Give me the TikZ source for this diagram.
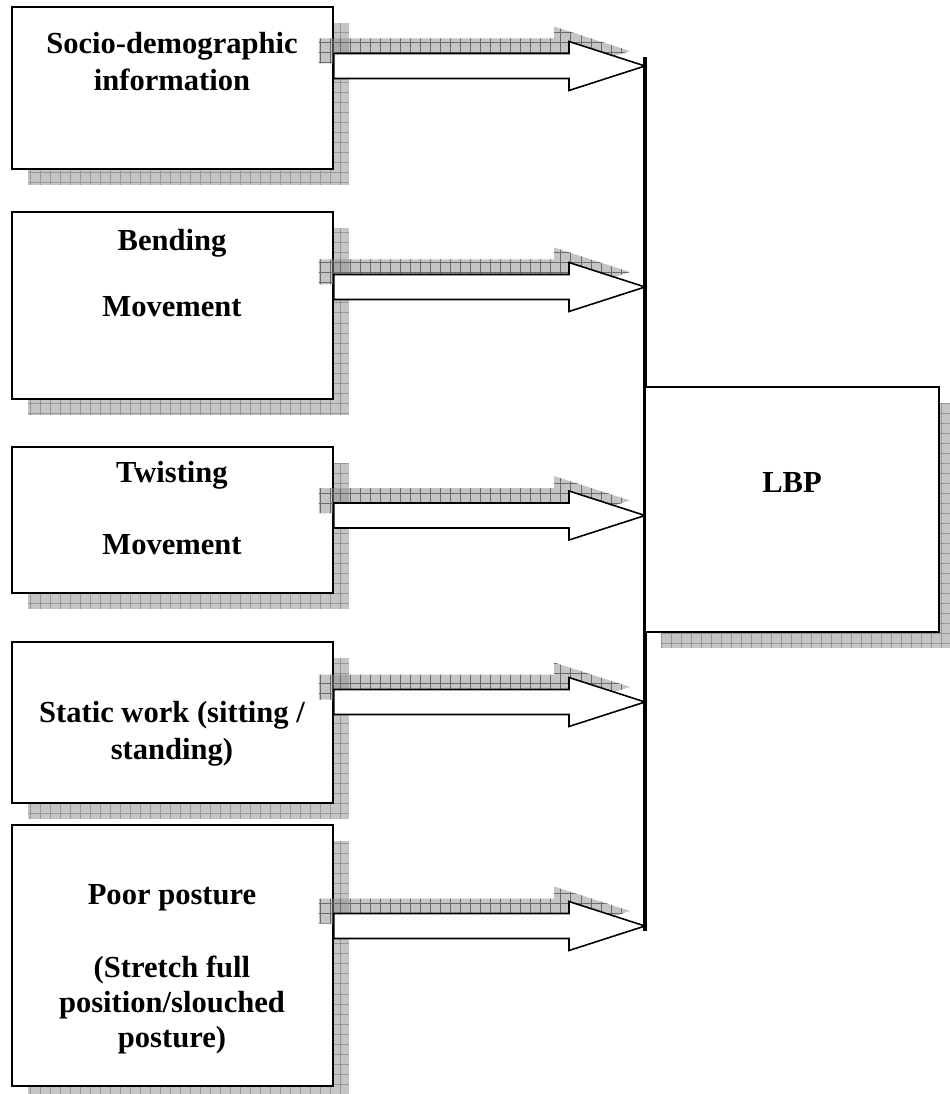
\documentclass[tikz,border=0pt]{standalone}
\usepackage{fontspec}
\setmainfont{Liberation Serif}
\usetikzlibrary{%
  calc,%
  shadows,% drop shadow
  patterns,%
  positioning%
}

% grid texture of the shadows
\pgfdeclarepatternformonly{shadowgrid}{\pgfqpoint{-1pt}{-1pt}}{\pgfqpoint{6.7pt}{6.7pt}}{\pgfqpoint{5.7pt}{5.7pt}}{%
  \pgfsetlinewidth{0.4pt}%
  \pgfpathmoveto{\pgfqpoint{0pt}{0pt}}\pgfpathlineto{\pgfqpoint{5.7pt}{0pt}}%
  \pgfpathmoveto{\pgfqpoint{0pt}{0pt}}\pgfpathlineto{\pgfqpoint{0pt}{5.7pt}}%
  \pgfusepath{stroke}}

\begin{document}
\begin{tikzpicture}[
  x=0.02cm, y=-0.02cm,
  font=\fontsize{17.4}{21}\selectfont\bfseries,
  factor/.style={rectangle, draw=black, fill=white, line width=1.1pt, inner sep=0pt, minimum width=6.42cm,
    drop shadow={shadow xshift=0.32cm, shadow yshift=-0.32cm, fill=black!45, opacity=0.5,
      postaction={pattern=shadowgrid, pattern color=black!58}}},
  txt/.style={align=center, inner sep=0pt},
  barrow/.style={to path={($(\tikztostart)+(0,-12.5)$) -- ($(\tikztotarget)+(-76,-12.5)$)
    -- ($(\tikztotarget)+(-76,-24.5)$) -- (\tikztotarget) -- ($(\tikztotarget)+(-76,24.5)$)
    -- ($(\tikztotarget)+(-76,12.5)$) -- ($(\tikztostart)+(0,12.5)$) -- cycle}},
  arrowshadow/.style={fill=black!45, fill opacity=0.5, draw=none,
    postaction={pattern=shadowgrid, pattern color=black!58}},
  blockarrow/.style={draw=black, fill=white, line width=0.9pt, line join=miter},
  bar/.style={line width=1.8pt}
]
\useasboundingbox (0,0) rectangle (949,1094);

% factors
\node[factor, minimum height=3.24cm] (b1) at (172.5,88) {};
\node[factor, minimum height=3.74cm] (b2) at (172.5,305.5) {};
\node[factor, minimum height=2.92cm] (b3) at (172.5,520) {};
\node[factor, minimum height=3.22cm] (b4) at (172.5,722.5) {};
\node[factor, minimum height=5.22cm] (b5) at (172.5,955.5) {};

\node[txt] (t1) at (172,61.5) {Socio-demographic\\information};
\node[txt] (t2a) at (172,243) {Bending};
\node[txt] (t2b) at (172,307) {Movement};
\node[txt] (t3a) at (172,475) {Twisting};
\node[txt] (t3b) at (172,545) {Movement};
\node[txt] (t4) at (172,734) {Static work (sitting /\\standing)};
\node[txt] (t5a) at (172,898) {Poor posture};
\node[txt, font=\fontsize{17.4}{20}\selectfont\bfseries] (t5b) at (172,1005) {(Stretch full\\position/slouched\\posture)};

% collecting bar
\coordinate (bartop) at (645,57);
\coordinate (barbot) at (645,931);

\foreach \i/\y in {1/66,2/287,3/515.5,4/702,5/926} {
  \coordinate (a\i) at (b\i.east |- 0,\y);
  \coordinate (e\i) at (bartop |- 0,\y);
}
\foreach \i in {1,...,5}
  \path[arrowshadow] ([shift={(-15,-15)}]a\i) to[barrow] ([shift={(-15,-15)}]e\i);
\foreach \i in {1,...,5}
  \draw[blockarrow] (a\i) to[barrow] (e\i);

\draw[bar] (bartop) -- (barbot);

% outcome
\node[factor, minimum width=5.88cm, minimum height=4.9cm] (lbp) at (792,509.5) {};
\node[txt] (tl) at (792,483) {LBP};

\end{tikzpicture}
\end{document}
